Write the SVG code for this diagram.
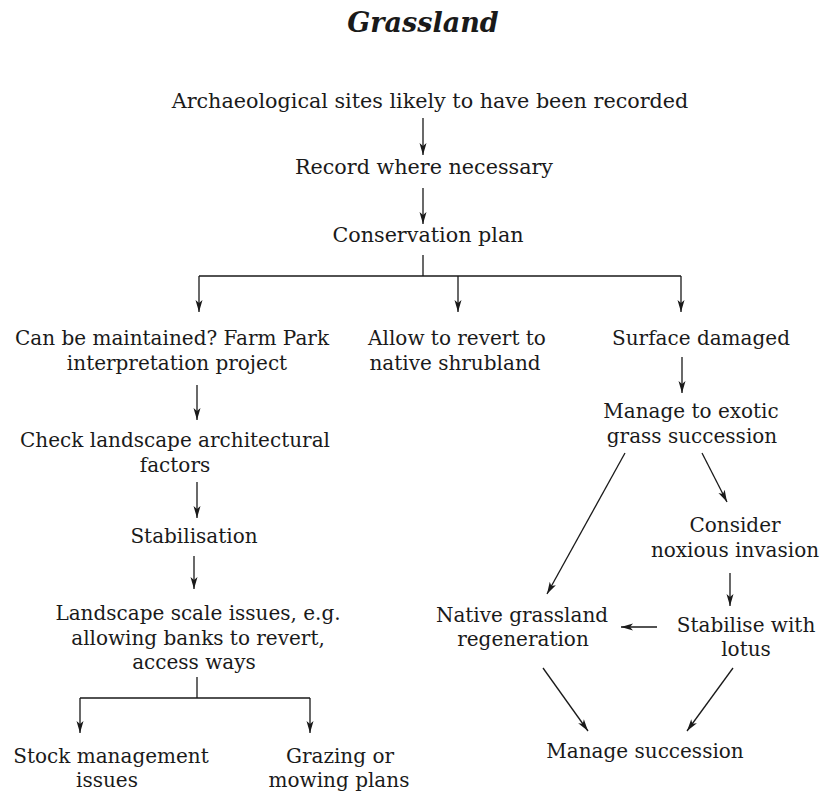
<svg xmlns="http://www.w3.org/2000/svg" width="826" height="792" viewBox="0 0 826 792">
<style>
text{font-family:"DejaVu Serif","Liberation Serif",serif;font-size:20px;fill:#1a1a1a;text-anchor:middle}
.title{font-size:27px;font-weight:bold;font-style:italic}
.top{font-size:20.7px}
.c line,.c path{stroke:#1a1a1a;stroke-width:1.3;fill:none}
.a{marker-end:url(#ah)}
</style>
<defs>
<marker id="ah" viewBox="0 0 12 8" refX="12" refY="4" markerWidth="12" markerHeight="8" markerUnits="userSpaceOnUse" orient="auto">
<path d="M0,0.5 L12,4 L0,7.5 L3,4 Z" fill="#1a1a1a"/>
</marker>
</defs>
<rect width="826" height="792" fill="#fff"/>
<text class="title" x="423" y="32">Grassland</text>
<g id="n1"><text class="top" x="430" y="108">Archaeological sites likely to have been recorded</text></g>
<g id="n2"><text class="top" x="424" y="174">Record where necessary</text></g>
<g id="n3"><text class="top" x="428" y="242">Conservation plan</text></g>
<g id="n4"><text x="172" y="345">Can be maintained? Farm Park</text><text x="177" y="370">interpretation project</text></g>
<g id="n5"><text x="457" y="345">Allow to revert to</text><text x="455" y="370">native shrubland</text></g>
<g id="n6"><text x="701" y="345">Surface damaged</text></g>
<g id="n7"><text x="175" y="447">Check landscape architectural</text><text x="175" y="472">factors</text></g>
<g id="n8"><text x="194" y="543">Stabilisation</text></g>
<g id="n9"><text x="198" y="620">Landscape scale issues, e.g.</text><text x="198" y="645">allowing banks to revert,</text><text x="194" y="669">access ways</text></g>
<g id="n10"><text x="111" y="763">Stock management</text><text x="107" y="787">issues</text></g>
<g id="n11"><text x="340" y="763">Grazing or</text><text x="339" y="787">mowing plans</text></g>
<g id="n12"><text x="691" y="418">Manage to exotic</text><text x="692" y="443">grass succession</text></g>
<g id="n13"><text x="735" y="532">Consider</text><text x="735" y="557">noxious invasion</text></g>
<g id="n14"><text x="522" y="622">Native grassland</text><text x="523" y="646">regeneration</text></g>
<g id="n15"><text x="746" y="632">Stabilise with</text><text x="746" y="656">lotus</text></g>
<g id="n16"><text x="645" y="758">Manage succession</text></g>
<g id="connectors" class="c">
<line class="a" x1="423" y1="118" x2="423" y2="155"/>
<line class="a" x1="423" y1="188" x2="423" y2="224"/>
<path d="M423,255 V276 M199,276 H681"/>
<line class="a" x1="199" y1="276" x2="199" y2="312"/>
<line class="a" x1="458" y1="276" x2="458" y2="312"/>
<line class="a" x1="681" y1="276" x2="681" y2="312"/>
<line class="a" x1="197" y1="385" x2="197" y2="420"/>
<line class="a" x1="197" y1="482" x2="197" y2="518"/>
<line class="a" x1="194" y1="556" x2="194" y2="589"/>
<path d="M197,677 V698 M80,698 H310"/>
<line class="a" x1="80" y1="698" x2="80" y2="733"/>
<line class="a" x1="310" y1="698" x2="310" y2="733"/>
<line class="a" x1="682" y1="357" x2="682" y2="393"/>
<line class="a" x1="625" y1="453" x2="547" y2="594"/>
<line class="a" x1="702" y1="453" x2="727" y2="502"/>
<line class="a" x1="730" y1="573" x2="730" y2="606"/>
<line class="a" x1="657" y1="627" x2="621" y2="627"/>
<line class="a" x1="543" y1="668" x2="588" y2="731"/>
<line class="a" x1="733" y1="668" x2="687" y2="731"/>
</g>
</svg>
